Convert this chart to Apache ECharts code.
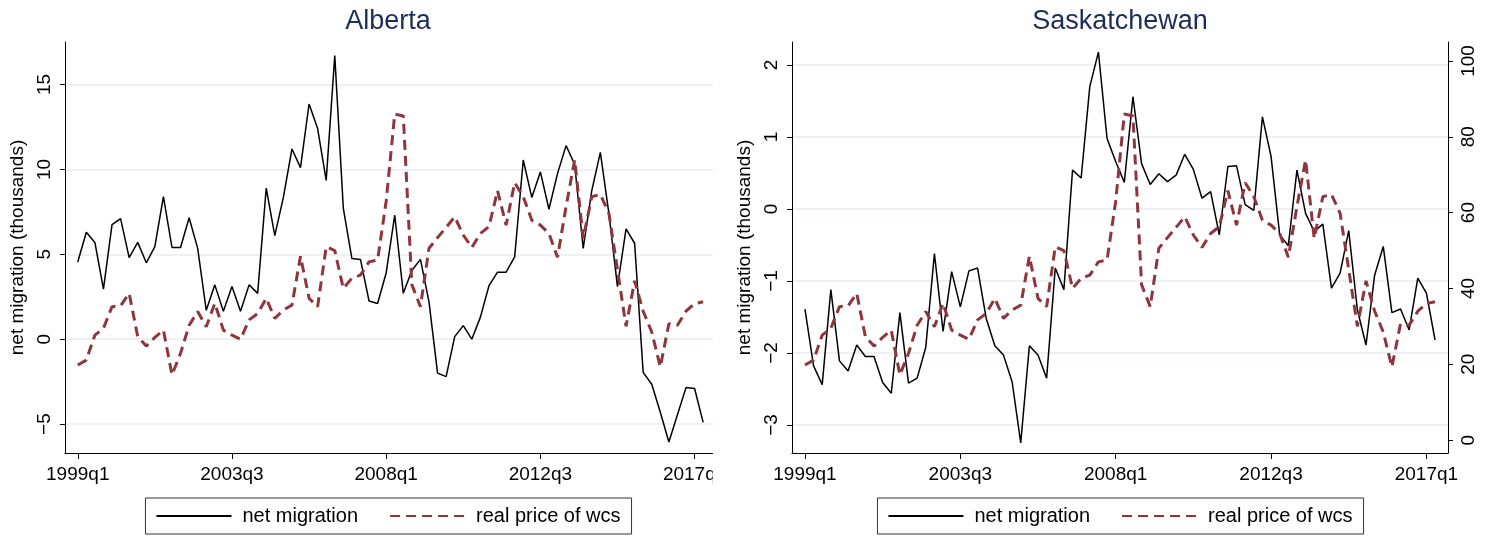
<!DOCTYPE html>
<html>
<head>
<meta charset="utf-8">
<script src="https://cdn.jsdelivr.net/npm/echarts@6/dist/echarts.min.js"></script>
<style>
  html, body { margin: 0; padding: 0; background: #fff; overflow: hidden; }
  #left-clip { position: absolute; left: 0; top: 0; width: 713px; height: 536px; overflow: hidden; }
  #left { width: 776px; height: 536px; }
  #right { position: absolute; left: 713px; top: 0; width: 814px; height: 536px; }
</style>
</head>
<body>
<div id="left-clip"><div id="left"></div></div>
<div id="right"></div>
<script>
// quarters run 1999q1 .. 2017q2, x value = quarter index
const startYear = 1999;
const tickIdx = [0, 18, 36, 54, 72];
const tickLabels = ['1999q1', '2003q3', '2008q1', '2012q3', '2017q1'];

// net migration, thousands
const albertaMig = [
    4.55, 6.3, 5.7, 2.95, 6.75, 7.1, 4.8, 5.7, 4.5, 5.45,
    8.4, 5.4, 5.4, 7.15, 5.35, 1.7, 3.2, 1.65, 3.1, 1.65,
    3.2, 2.7, 8.9, 6.1, 8.35, 11.2, 10.1, 13.85, 12.4, 9.35,
    16.7, 7.7, 4.75, 4.7, 2.25, 2.1, 3.9, 7.3, 2.7, 4.05,
    4.7, 2.2, -2.0, -2.2, 0.15, 0.8, 0.0, 1.3, 3.15, 3.95,
    3.95, 4.85, 10.55, 8.35, 9.85, 7.65, 9.75, 11.4, 10.3, 5.35,
    8.75, 11.0, 7.4, 3.1, 6.5, 5.65, -1.95, -2.65, -4.3, -6.05,
    -4.45, -2.85, -2.9, -4.9
];
const saskMig = [
    -1.39, -2.18, -2.44, -1.12, -2.11, -2.25, -1.89, -2.05, -2.05, -2.41,
    -2.56, -1.44, -2.42, -2.35, -1.92, -0.62, -1.70, -0.87, -1.36, -0.86,
    -0.82, -1.52, -1.90, -2.03, -2.40, -3.25, -1.90, -2.03, -2.35, -0.82,
    -1.12, 0.54, 0.43, 1.70, 2.18, 0.98, 0.66, 0.37, 1.56, 0.63,
    0.34, 0.49, 0.38, 0.47, 0.76, 0.55, 0.15, 0.24, -0.36, 0.59,
    0.60, 0.06, -0.02, 1.28, 0.73, -0.36, -0.51, 0.54, -0.06, -0.31,
    -0.21, -1.10, -0.89, -0.30, -1.40, -1.89, -0.92, -0.52, -1.44, -1.39,
    -1.68, -0.96, -1.17, -1.82
];
// real price of wcs (right axis, same series in both panels)
const wcsPrice = [
    19.8, 21.1, 27.7, 29.5, 35.2, 35.4, 38.7, 27.3, 24.8, 27.1,
    29.0, 17.2, 22.9, 30.3, 33.9, 29.9, 36.1, 29.0, 27.7, 26.6,
    31.7, 33.4, 37.4, 32.1, 34.3, 35.6, 48.5, 37.4, 35.2, 51.0,
    50.0, 40.0, 42.7, 43.5, 47.0, 47.5, 63.0, 86.0, 85.5, 41.0,
    35.2, 50.6, 53.4, 56.1, 58.9, 54.1, 50.8, 54.5, 56.3, 65.8,
    56.7, 67.9, 64.2, 58.0, 56.7, 54.5, 48.2, 61.6, 73.9, 53.2,
    64.2, 64.8, 59.8, 45.0, 30.0, 42.0, 34.0, 28.5, 19.3, 30.7,
    30.3, 34.0, 36.0, 36.5
];
const albertaTicks = [-5, 0, 5, 10, 15];
const saskTicks = [-3, -2, -1, 0, 1, 2];
const priceTicks = [0, 20, 40, 60, 80, 100];

const FONT = '"Liberation Sans", Arial, sans-serif';

function quarterLabel(i) {
    return (startYear + Math.floor(i / 4)) + 'q' + (i % 4 + 1);
}

function pairs(values) {
    return values.map((v, i) => [i, v]);
}

function valueAxis(pos, min, max, ticks, extra) {
    return Object.assign({
        type: 'value',
        position: pos,
        min: min,
        max: max,
        axisLine: { show: true, onZero: false, lineStyle: { color: '#000', width: 1 } },
        axisTick: { show: true, length: 5, customValues: ticks, lineStyle: { color: '#000' } },
        axisLabel: {
            customValues: ticks, rotate: 90, fontSize: 19, color: '#000', margin: 11, fontFamily: FONT,
            formatter: v => String(v).replace('-', '\u2212')
        },
        splitLine: { show: false }
    }, extra || {});
}

function panelOption(title, mig, migMin, migMax, migTicks, gridLeft, gridRight) {
    return {
        animation: false,
        textStyle: { fontFamily: FONT },
        title: {
            text: title, left: 'center', top: 4, padding: 4,
            textStyle: { fontSize: 27, fontWeight: 'normal', color: '#1c2d5a', fontFamily: FONT }
        },
        legend: {
            left: 'center', top: 498,
            padding: [8, 11, 8, 10],
            borderColor: '#333', borderWidth: 1,
            itemWidth: 75, itemHeight: 14, itemGap: 31,
            itemStyle: { opacity: 0 },
            textStyle: { fontSize: 20, color: '#000', padding: [0, 0, 0, 6], fontFamily: FONT }
        },
        grid: { left: gridLeft, right: gridRight, top: 42, bottom: 83 },
        xAxis: {
            type: 'value', min: -1.5, max: 74.5,
            axisLine: { onZero: false, lineStyle: { color: '#000', width: 1 } },
            axisTick: { length: 6, customValues: tickIdx, lineStyle: { color: '#000' } },
            axisLabel: {
                customValues: tickIdx, fontSize: 19, color: '#000', margin: 12, fontFamily: FONT,
                formatter: v => tickLabels[tickIdx.indexOf(v)] || quarterLabel(v)
            },
            splitLine: { show: false }
        },
        yAxis: [
            valueAxis('left', migMin, migMax, migTicks, {
                name: 'net migration (thousands)',
                nameLocation: 'middle', nameGap: 36,
                nameTextStyle: { fontSize: 19, color: '#000', fontFamily: FONT },
                splitLine: { show: true, lineStyle: { color: '#e6eef1', width: 1.5 } }
            }),
            valueAxis('right', -3.4, 105, priceTicks)
        ],
        series: [
            {
                name: 'net migration', type: 'line', yAxisIndex: 0,
                data: pairs(mig), symbol: 'none',
                lineStyle: { color: '#000', width: 1.5 },
                itemStyle: { color: '#000' }
            },
            {
                name: 'real price of wcs', type: 'line', yAxisIndex: 1,
                data: pairs(wcsPrice), symbol: 'none',
                lineStyle: { color: '#8f353d', width: 3, type: [10, 6] },
                itemStyle: { color: '#8f353d' }
            }
        ]
    };
}

const leftChart = echarts.init(document.getElementById('left'));
leftChart.setOption(panelOption('Alberta', albertaMig, -6.7, 17.5, albertaTicks, 60, 60));

const rightChart = echarts.init(document.getElementById('right'));
rightChart.setOption(panelOption('Saskatchewan', saskMig, -3.39, 2.32, saskTicks, 79, 79));
</script>
</body>
</html>
